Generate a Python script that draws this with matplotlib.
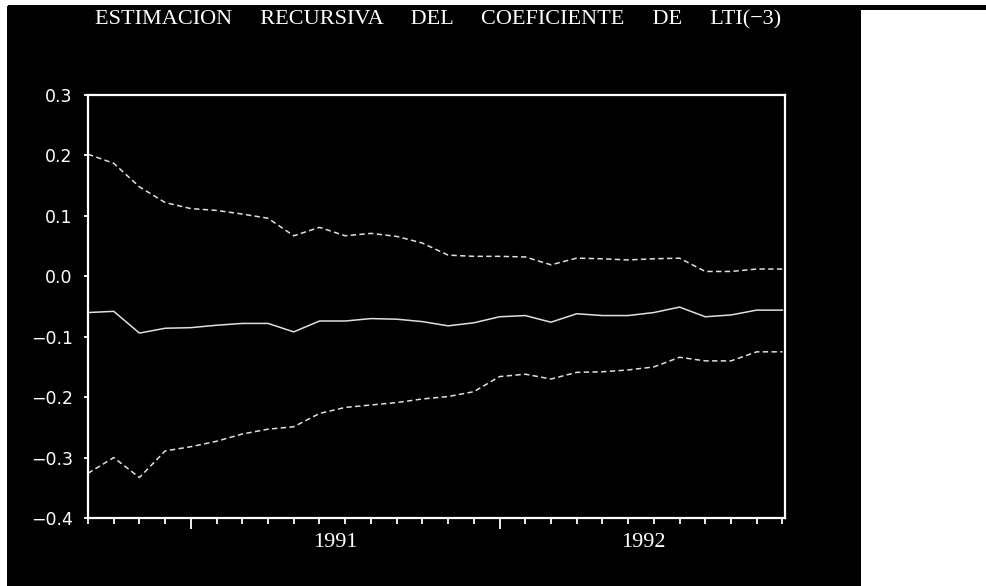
import matplotlib.pyplot as plt
from matplotlib.patches import Rectangle
from matplotlib.ticker import FixedLocator, NullFormatter

# monthly recursive estimates, 1990:09 - 1992:12
months = list(range(28))
coef = [-0.060, -0.058, -0.094, -0.086, -0.085, -0.081, -0.078, -0.078, -0.092, -0.074,
        -0.074, -0.070, -0.071, -0.075, -0.082, -0.077, -0.067, -0.065, -0.076, -0.062,
        -0.065, -0.065, -0.060, -0.051, -0.067, -0.064, -0.056, -0.056]
upper = [0.202, 0.187, 0.148, 0.122, 0.112, 0.109, 0.103, 0.096, 0.067, 0.081,
         0.067, 0.071, 0.066, 0.055, 0.035, 0.033, 0.033, 0.032, 0.019, 0.030,
         0.029, 0.027, 0.029, 0.030, 0.008, 0.008, 0.012, 0.012]
lower = [-0.326, -0.300, -0.333, -0.289, -0.282, -0.273, -0.261, -0.253, -0.249, -0.227,
         -0.217, -0.213, -0.209, -0.203, -0.199, -0.191, -0.166, -0.162, -0.170, -0.159,
         -0.158, -0.155, -0.150, -0.134, -0.140, -0.140, -0.125, -0.125]
year_ticks = [4, 16]
year_labels = ['1991', '1992']
year_label_pos = [9.6, 21.6]
yticks = [-0.4, -0.3, -0.2, -0.1, 0.0, 0.1, 0.2, 0.3]

W, H = 987, 586
fig = plt.figure(figsize=(W / 100, H / 100), dpi=100, facecolor='white')

def px_rect(x0, y0, x1, y1, color):
    # rectangle given in pixel coordinates from the top-left corner
    fig.patches.append(Rectangle((x0 / W, 1 - y1 / H), (x1 - x0) / W, (y1 - y0) / H,
                                 transform=fig.transFigure, color=color, zorder=-5,
                                 antialiased=False))

px_rect(8, 6, 987, 8, 'black')
px_rect(8, 6, 12, 586, 'black')
px_rect(13, 8, 859, 586, 'black')

ax = fig.add_axes([88 / W, 1 - 518 / H, (785 - 88) / W, (518 - 95) / H])
ax.set_facecolor('black')
ax.set_zorder(2)

ax.plot(months, coef, color='#e0e0e0', lw=1.1)
ax.plot(months, upper, color='#e0e0e0', lw=1.1, dashes=(3.5, 2.2))
ax.plot(months, lower, color='#e0e0e0', lw=1.1, dashes=(3.5, 2.2))

ax.set_xlim(0, 27.1)
ax.set_ylim(-0.4, 0.3)

for s in ax.spines.values():
    s.set_color('white')
    s.set_linewidth(1.6)

ax.set_yticks(yticks)
ax.set_yticklabels([f'{v:.1f}'.replace('-', '\u2212') for v in yticks])
ax.tick_params(axis='y', colors='white', length=3, width=1.3, pad=8, labelsize=12.5)

ax.xaxis.set_major_locator(FixedLocator(year_ticks))
ax.xaxis.set_minor_locator(FixedLocator(months))
ax.xaxis.set_major_formatter(NullFormatter())
ax.tick_params(axis='x', which='major', colors='white', length=8, width=1.3)
ax.tick_params(axis='x', which='minor', colors='white', length=4, width=1.3)

for pos, lab in zip(year_label_pos, year_labels):
    ax.annotate(lab, xy=(pos, 0), xycoords=('data', 'axes fraction'),
                xytext=(0, -17.5), textcoords='offset points',
                ha='center', va='center', color='white',
                family='Liberation Serif', fontsize=16)

fig.text(438 / W, 1 - 20 / H,
         'ESTIMACION     RECURSIVA     DEL     COEFICIENTE     DE     LTI(\u22123)',
         ha='center', va='center', color='white',
         family='Liberation Serif', fontsize=16)

fig.savefig('out.png', dpi=100, facecolor=fig.get_facecolor())
